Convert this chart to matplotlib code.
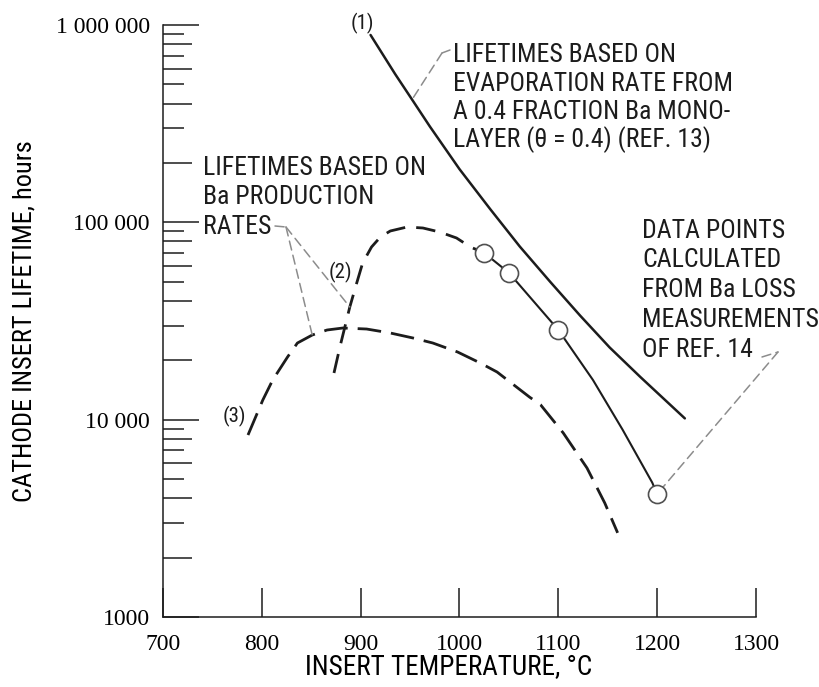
import matplotlib
matplotlib.use('Agg')
import matplotlib.pyplot as plt
from matplotlib.ticker import FixedLocator, NullFormatter

W, H = 820, 687

# (1) evaporation from a 0.4 fraction Ba monolayer (ref. 13)
t_evap = [910, 935, 952, 970, 1000, 1031, 1061, 1092, 1122, 1152, 1183, 1228]
life_evap = [890000, 563000, 419000, 306000, 186000, 116800, 75400, 49800,
             33700, 23200, 16450, 10150]

# (2) Ba production rates, dashed up to the first measured point
t_prod2 = [873, 879, 884, 889, 896, 902, 911, 920, 930, 947, 963, 980,
           997, 1011, 1025]
life_prod2 = [17240, 23350, 29480, 37230, 49270, 62220, 75000, 84300, 90400,
              94700, 93600, 89300, 83300, 75000, 70000]

# solid curve through the Ba loss data
t_fit = [1025, 1050, 1100, 1135, 1165, 1195, 1200]
life_fit = [70000, 55500, 28500, 15900, 8900, 4800, 4200]

# data points from Ba loss measurements (ref. 14)
t_meas = [1025, 1050, 1100, 1200]
life_meas = [70000, 55500, 28500, 4200]

# (3) Ba production rates
t_prod3 = [786, 801, 811, 826, 836, 851, 866, 882, 906, 930, 953, 973, 998,
           1021, 1038, 1071, 1082, 1105, 1129, 1147, 1160]
life_prod3 = [8360, 12580, 15890, 20770, 24460, 26850, 28470, 29140, 28800,
              27490, 25930, 24460, 22030, 19370, 17440, 13000, 11900, 8560,
              5690, 3780, 2670]

x_ticks = [700, 800, 900, 1000, 1100, 1200, 1300]
y_ticks = [1000, 10000, 100000, 1000000]
y_ticklabels = ['1000', '10 000', '100 000', '1 000 000']
decades = [1000, 10000, 100000]
minor_even = [k * d for d in decades for k in (2, 4, 6, 8)]
minor_odd = [k * d for d in decades for k in (3, 5, 7, 9)]

NARROW = ['Roboto Condensed', 'Roboto', 'DejaVu Sans']
SERIF = ['Liberation Serif', 'DejaVu Serif']
INK = '#1c1c1c'
LEAD = '#8c8c8c'

fig = plt.figure(figsize=(W / 100, H / 100), dpi=100)
ax = fig.add_axes([163 / W, 1 - 617 / H, 593 / W, 592 / H])

ax.plot(t_evap, life_evap, color=INK, lw=1.8, solid_capstyle='round')
ax.plot(t_prod2, life_prod2, color=INK, lw=2.0, ls=(0, (7, 4)))
ax.plot(t_fit, life_fit, color=INK, lw=1.5)
ax.plot(t_prod3, life_prod3, color=INK, lw=2.0, ls=(0, (8.5, 3.6)))
ax.plot(t_meas, life_meas, ls='none', marker='o', ms=13, mfc='white',
        mec='#505050', mew=1.2, zorder=5)

ax.set_yscale('log')
ax.set_xlim(700, 1300)
ax.set_ylim(1000, 1000000)
for side in ('top', 'right'):
    ax.spines[side].set_visible(False)
for side in ('left', 'bottom'):
    ax.spines[side].set_linewidth(1.1)
    ax.spines[side].set_color(INK)

ax.set_xticks(x_ticks)
ax.set_xticklabels([str(v) for v in x_ticks], family=SERIF, fontsize=17)
ax.set_yticks(y_ticks)
ax.set_yticklabels(y_ticklabels, family=SERIF, fontsize=17)
ax.yaxis.set_minor_locator(FixedLocator(minor_even))
ax.yaxis.set_minor_formatter(NullFormatter())
ax.tick_params(axis='x', direction='in', length=21, width=1.1, color=INK, pad=12)
ax.tick_params(axis='y', which='major', direction='in', length=26, width=1.1,
               color=INK, pad=9.4)
ax.tick_params(axis='y', which='minor', direction='in', length=21, width=1.1,
               color=INK)
# shorter ticks at 3, 5, 7, 9
ax.hlines(minor_odd, 0, 21 / 593, transform=ax.get_yaxis_transform(),
          color=INK, lw=1.1)

ax.set_xlabel('INSERT TEMPERATURE, °C', family=NARROW, fontsize=19.5)
ax.xaxis.set_label_coords(0.4815, -0.062)
ax.set_ylabel('CATHODE INSERT LIFETIME, hours', family=NARROW, fontsize=19)
ax.yaxis.set_label_coords(-0.213, 0.5)


def fp(x, y):
    # top-left pixel position -> figure pixels
    return (x, H - y)


def block(x, baselines, lines):
    for yb, s in zip(baselines, lines):
        fig.text(x / W, 1 - yb / H, s, family=NARROW, fontsize=18.5,
                 va='baseline', ha='left', color=INK)


def leader(p0, p1, xy=None):
    kw = dict(arrowstyle='-', color=LEAD, lw=1.1, ls=(0, (6, 3.5)),
              shrinkA=0, shrinkB=0)
    if xy is None:
        ax.annotate('', xy=fp(*p1), xycoords='figure pixels',
                    xytext=fp(*p0), textcoords='figure pixels', arrowprops=kw)
    else:
        ax.annotate('', xy=xy, xycoords='data',
                    xytext=fp(*p0), textcoords='figure pixels', arrowprops=kw)


block(453, [62, 91, 119, 147],
      ['LIFETIMES BASED ON', 'EVAPORATION RATE FROM',
       'A 0.4 FRACTION Ba MONO-', 'LAYER (θ = 0.4) (REF. 13)'])
block(203, [175, 204, 234],
      ['LIFETIMES BASED ON', 'Ba PRODUCTION', 'RATES'])
block(642, [238, 267, 297, 327, 357],
      ['DATA POINTS', 'CALCULATED', 'FROM Ba LOSS', 'MEASUREMENTS',
       'OF REF. 14'])

for (x, y), s in zip([(362, 23), (340, 272), (234, 416)], ['(1)', '(2)', '(3)']):
    fig.text(x / W, 1 - y / H, s, family=NARROW, fontsize=15,
             ha='center', va='center', color=INK)

leader((450, 50), (442, 53))
leader((442, 53), None, xy=(t_evap[2], life_evap[2]))
leader((275, 226), (286, 227))
leader((286, 227), None, xy=(t_prod3[5], life_prod3[5]))
leader((286, 227), None, xy=(t_prod2[3], life_prod2[3]))
leader((762, 357), (778, 352))
leader((778, 352), None, xy=(t_meas[-1], life_meas[-1]))

fig.savefig('out.png', dpi=100)
